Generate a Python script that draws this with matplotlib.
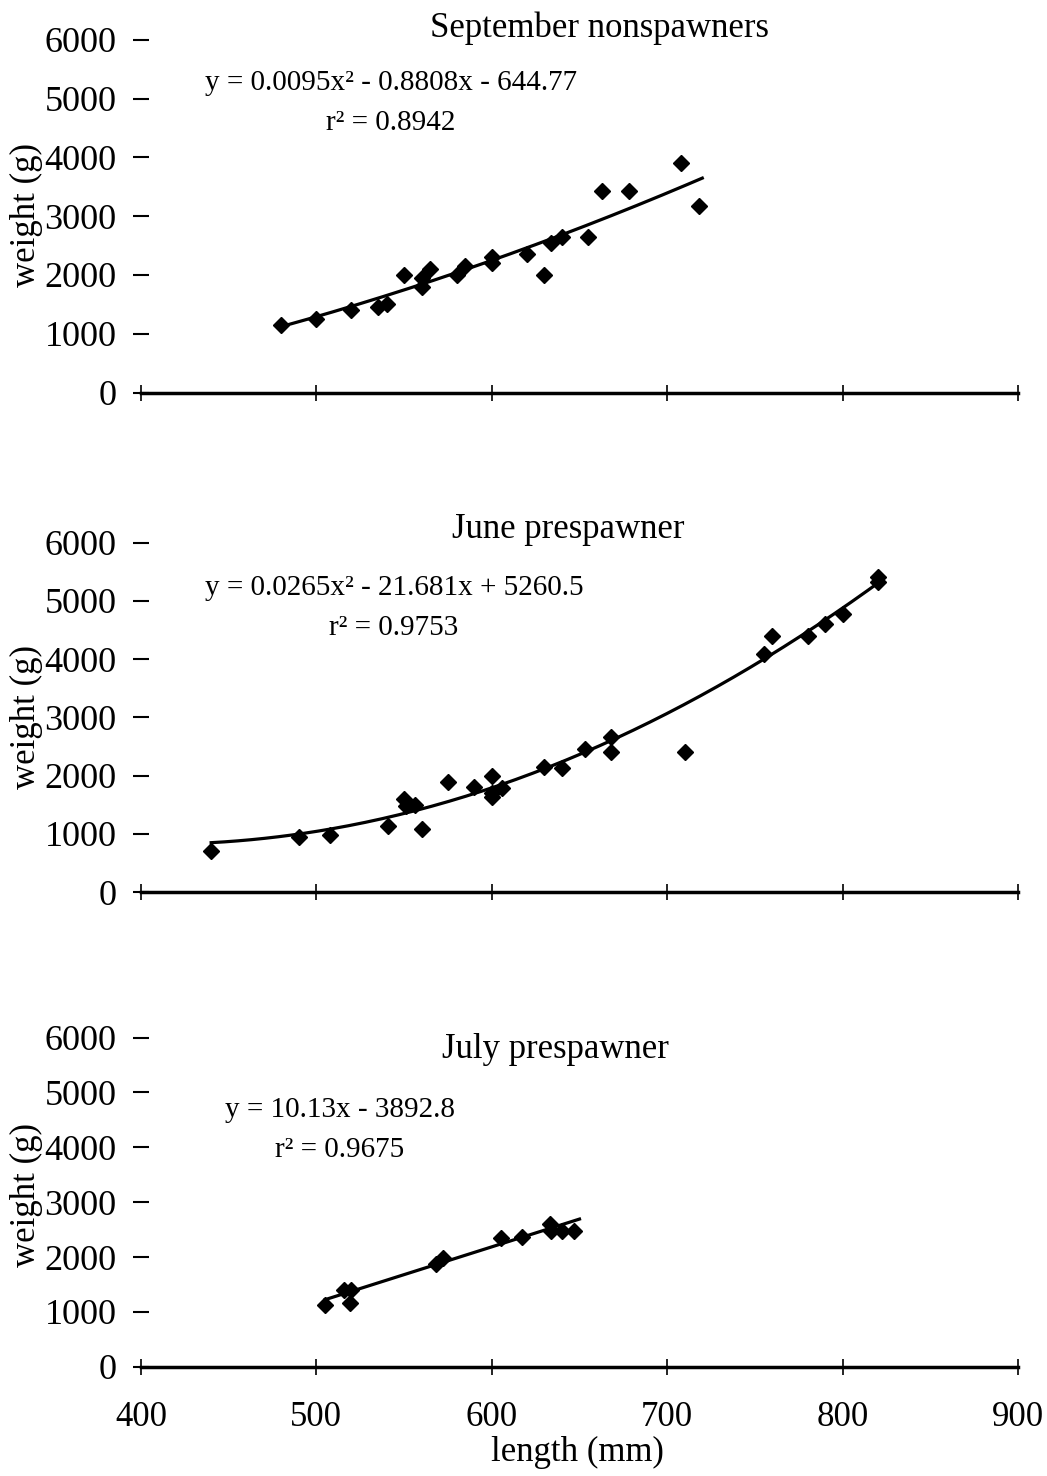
import numpy as np
import matplotlib
matplotlib.use("Agg")
import matplotlib.pyplot as plt

plt.rcParams["font.family"] = ["Liberation Serif", "DejaVu Serif"]

# September nonspawners
sep_len = [480, 500, 520, 535, 540, 550, 560, 560, 565, 580, 585, 600, 600,
           620, 630, 634, 640, 655, 663, 678, 708, 718]
sep_wt = [1150, 1250, 1400, 1450, 1500, 2000, 1800, 1940, 2100, 2000, 2150, 2300, 2200,
          2350, 2000, 2550, 2650, 2650, 3420, 3420, 3900, 3170]
sep_coef = [0.0095, -0.8808, -644.77]
sep_range = [480, 720]
sep_eq = ["y = 0.0095x² - 0.8808x - 644.77", "r² = 0.8942"]

# June prespawner
jun_len = [440, 490, 508, 541, 550, 551, 556, 560, 575, 590, 600, 600, 600, 606,
           630, 640, 653, 668, 668, 710, 755, 760, 780, 790, 800, 820, 820]
jun_wt = [700, 940, 980, 1130, 1600, 1480, 1500, 1090, 1900, 1800, 2000, 1700, 1640, 1790,
          2150, 2130, 2450, 2660, 2400, 2400, 4080, 4400, 4400, 4600, 4780, 5330, 5400]
jun_coef = [0.0265, -21.681, 5260.5]
jun_range = [440, 820]
jun_eq = ["y = 0.0265x² - 21.681x + 5260.5", "r² = 0.9753"]

# July prespawner
jul_len = [505, 516, 520, 519, 568, 572, 605, 617, 633, 634, 640, 647]
jul_wt = [1120, 1400, 1400, 1170, 1880, 1980, 2340, 2360, 2610, 2470, 2470, 2470]
jul_coef = [10.13, -3892.8]
jul_range = [505, 650]
jul_eq = ["y = 10.13x - 3892.8", "r² = 0.9675"]

titles = ["September nonspawners", "June prespawner", "July prespawner"]
y_ticks = [0, 1000, 2000, 3000, 4000, 5000, 6000]
x_ticks = [400, 500, 600, 700, 800, 900]

W, H = 1047, 1476
fig = plt.figure(figsize=(W / 100, H / 100), dpi=100)


def frac_box(top_px, bottom_px, left_px=141, right_px=1018):
    return [left_px / W, 1 - bottom_px / H, (right_px - left_px) / W, (bottom_px - top_px) / H]


panels = [
    dict(box=frac_box(39.7, 392.5), x=sep_len, y=sep_wt, coef=sep_coef, rng=sep_range,
         eq=sep_eq, title=titles[0], title_xy=(599, 28), eq_xy=(391, 83, 123), ylab_y=215),
    dict(box=frac_box(542.5, 892.3), x=jun_len, y=jun_wt, coef=jun_coef, rng=jun_range,
         eq=jun_eq, title=titles[1], title_xy=(568, 530), eq_xy=(394, 588, 628), ylab_y=717),
    dict(box=frac_box(1037.6, 1366.7), x=jul_len, y=jul_wt, coef=jul_coef, rng=jul_range,
         eq=jul_eq, title=titles[2], title_xy=(555, 1050), eq_xy=(340, 1110, 1150), ylab_y=1195),
]

for i, p in enumerate(panels):
    ax = fig.add_axes(p["box"])
    xs = np.linspace(p["rng"][0], p["rng"][1], 200)
    ax.plot(xs, np.polyval(p["coef"], xs), color="black", lw=2.3, zorder=2)
    ax.plot(p["x"], p["y"], linestyle="none", marker="D", markersize=8.5,
            color="black", zorder=3)
    ax.set_xlim(400, 900)
    ax.set_ylim(0, 6000)
    ax.set_xticks(x_ticks)
    ax.set_yticks(y_ticks)
    for s in ["top", "right", "left"]:
        ax.spines[s].set_visible(False)
    ax.spines["bottom"].set_linewidth(2.5)
    ax.tick_params(axis="y", direction="inout", length=11, width=1.5, labelsize=26, pad=12)
    ax.tick_params(axis="x", direction="inout", length=11, width=1.2, labelsize=25, pad=19)
    if i < 2:
        ax.tick_params(axis="x", labelbottom=False)
    ax.patch.set_alpha(0)

    fig.text(p["title_xy"][0] / W, 1 - p["title_xy"][1] / H, p["title"],
             fontsize=25, ha="center", va="center")
    cx, y1, y2 = p["eq_xy"]
    fig.text(cx / W, 1 - y1 / H, p["eq"][0], fontsize=21, ha="center", va="center")
    fig.text(cx / W, 1 - y2 / H, p["eq"][1], fontsize=21, ha="center", va="center")
    fig.text(26 / W, 1 - p["ylab_y"] / H, "weight (g)", fontsize=25, rotation=90,
             ha="center", va="center")

fig.text(577 / W, 1 - 1452 / H, "length (mm)", fontsize=25, ha="center", va="center")

fig.savefig("out.png", dpi=100)
